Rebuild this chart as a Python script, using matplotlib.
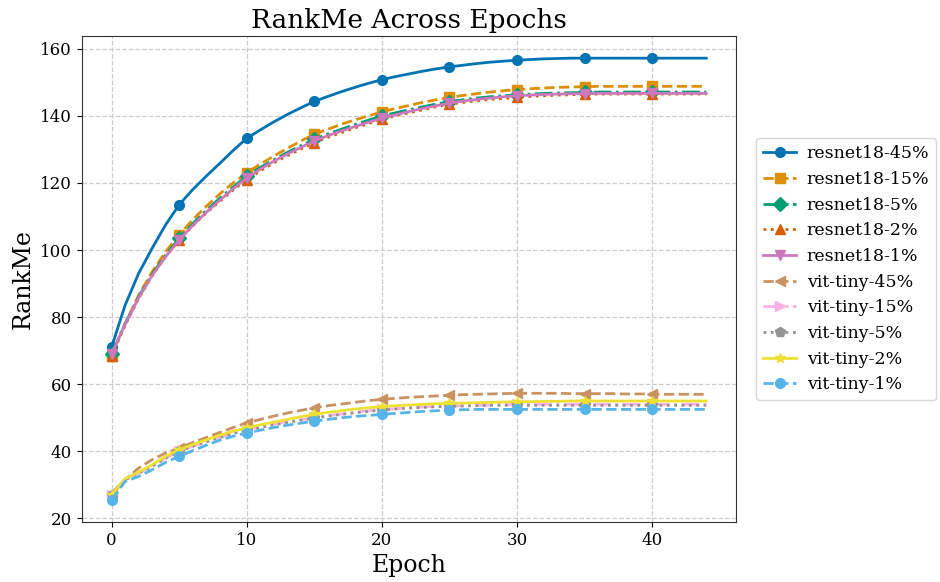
import matplotlib
matplotlib.use("Agg")
import matplotlib.pyplot as plt

plt.rcParams["font.family"] = "DejaVu Serif"

epochs = list(range(45))

resnet18_45 = [71.0, 83.5, 93.0, 100.5, 107.5, 113.5, 118.0, 122.0, 125.8, 129.7,
               133.3, 135.8, 138.2, 140.4, 142.4, 144.3, 145.8, 147.2, 148.5, 149.7,
               150.8, 151.7, 152.5, 153.3, 154.0, 154.6, 155.1, 155.6, 156.0, 156.3,
               156.6, 156.8, 157.0, 157.1, 157.2, 157.2, 157.2, 157.2, 157.2, 157.2,
               157.2, 157.2, 157.2, 157.2, 157.2]
resnet18_15 = [68.5, 78.0, 86.5, 93.5, 99.5, 104.5, 109.0, 113.0, 116.7, 120.0,
               123.0, 125.6, 128.0, 130.3, 132.5, 134.5, 136.0, 137.5, 138.8, 140.0,
               141.2, 142.2, 143.1, 144.0, 144.8, 145.5, 146.1, 146.6, 147.1, 147.5,
               147.8, 148.1, 148.3, 148.5, 148.6, 148.7, 148.8, 148.8, 148.8, 148.8,
               148.8, 148.8, 148.8, 148.8, 148.8]
resnet18_5 = [69.0, 78.0, 86.0, 92.8, 98.5, 103.5, 107.8, 111.8, 115.4, 118.8,
              122.0, 124.6, 126.9, 129.1, 131.1, 133.0, 134.6, 136.0, 137.4, 138.7,
              140.0, 140.9, 141.8, 142.7, 143.5, 144.2, 144.8, 145.3, 145.7, 146.0,
              146.3, 146.5, 146.7, 146.8, 146.9, 147.0, 147.1, 147.1, 147.1, 147.1,
              147.1, 147.1, 147.1, 147.1, 147.1]
resnet18_2 = [68.5, 77.5, 85.5, 92.3, 98.0, 103.0, 107.2, 111.0, 114.5, 117.9,
              121.0, 123.6, 126.0, 128.1, 130.1, 132.0, 133.6, 135.0, 136.4, 137.7,
              139.0, 140.0, 140.9, 141.8, 142.7, 143.5, 144.0, 144.5, 144.9, 145.2,
              145.5, 145.8, 146.0, 146.2, 146.3, 146.4, 146.5, 146.5, 146.5, 146.5,
              146.5, 146.5, 146.5, 146.5, 146.5]
resnet18_1 = [69.0, 77.8, 85.7, 92.4, 98.0, 103.0, 107.3, 111.2, 114.8, 118.3,
              121.5, 124.1, 126.5, 128.6, 130.6, 132.5, 134.1, 135.5, 136.8, 138.1,
              139.3, 140.3, 141.3, 142.2, 143.0, 143.8, 144.4, 144.9, 145.3, 145.7,
              146.0, 146.2, 146.4, 146.5, 146.6, 146.6, 146.7, 146.7, 146.7, 146.7,
              146.7, 146.7, 146.7, 146.7, 146.7]
vit_tiny_45 = [27.5, 31.5, 35.0, 37.5, 39.5, 41.0, 42.6, 44.1, 45.6, 47.1,
               48.5, 49.5, 50.5, 51.4, 52.2, 53.0, 53.6, 54.1, 54.6, 55.1,
               55.5, 55.8, 56.1, 56.3, 56.5, 56.7, 56.9, 57.0, 57.1, 57.2,
               57.3, 57.3, 57.3, 57.3, 57.2, 57.2, 57.2, 57.2, 57.1, 57.1,
               57.1, 57.0, 57.0, 57.0, 57.0]
vit_tiny_15 = [27.0, 31.5, 33.5, 35.5, 38.0, 40.0, 41.5, 42.8, 44.2, 45.4,
               46.5, 47.3, 48.1, 48.8, 49.4, 50.0, 50.6, 51.1, 51.6, 52.1,
               52.5, 52.7, 53.0, 53.2, 53.4, 53.5, 53.6, 53.7, 53.8, 53.9,
               54.0, 54.0, 54.0, 54.0, 54.0, 54.0, 54.0, 54.0, 54.0, 54.0,
               54.0, 54.0, 54.0, 54.0, 54.0]
vit_tiny_5 = [27.0, 31.5, 33.5, 35.5, 38.0, 40.0, 41.5, 42.8, 44.1, 45.3,
              46.3, 47.1, 47.9, 48.6, 49.3, 49.9, 50.5, 51.0, 51.5, 51.9,
              52.3, 52.6, 52.9, 53.1, 53.3, 53.4, 53.5, 53.6, 53.7, 53.7,
              53.7, 53.7, 53.7, 53.7, 53.7, 53.7, 53.7, 53.7, 53.7, 53.7,
              53.7, 53.7, 53.7, 53.7, 53.7]
vit_tiny_2 = [27.0, 31.8, 33.8, 36.0, 38.5, 40.5, 42.0, 43.4, 44.8, 46.0,
              47.0, 47.9, 48.7, 49.5, 50.3, 51.0, 51.6, 52.1, 52.6, 53.0,
              53.3, 53.6, 53.8, 54.0, 54.2, 54.3, 54.4, 54.5, 54.6, 54.7,
              54.8, 54.8, 54.9, 54.9, 55.0, 55.0, 55.0, 55.0, 55.0, 55.0,
              55.0, 55.0, 55.0, 55.0, 55.0]
vit_tiny_1 = [25.5, 31.0, 32.5, 34.5, 36.7, 38.5, 40.2, 41.8, 43.3, 44.5,
              45.5, 46.3, 47.1, 47.8, 48.4, 49.0, 49.5, 50.0, 50.4, 50.7,
              51.0, 51.3, 51.6, 51.9, 52.1, 52.3, 52.4, 52.5, 52.5, 52.5,
              52.5, 52.5, 52.5, 52.5, 52.5, 52.5, 52.5, 52.5, 52.5, 52.5,
              52.5, 52.5, 52.5, 52.5, 52.5]

labels = ["resnet18-45%", "resnet18-15%", "resnet18-5%", "resnet18-2%", "resnet18-1%",
          "vit-tiny-45%", "vit-tiny-15%", "vit-tiny-5%", "vit-tiny-2%", "vit-tiny-1%"]
series = [resnet18_45, resnet18_15, resnet18_5, resnet18_2, resnet18_1,
          vit_tiny_45, vit_tiny_15, vit_tiny_5, vit_tiny_2, vit_tiny_1]

# seaborn "colorblind" palette
colors = ["#0173b2", "#de8f05", "#029e73", "#d55e00", "#cc78bc",
          "#ca9161", "#fbafe4", "#949494", "#ece133", "#56b4e9"]
styles = ["-", "--", "-.", ":", "-", "--", "-.", ":", "-", "--"]
markers = ["o", "s", "D", "^", "v", "<", ">", "p", "*", "o"]

fig = plt.figure(figsize=(9.4, 5.82), dpi=100)
ax = fig.add_axes([0.087, 0.103, 0.696, 0.835])

for y, lab, c, ls, mk in zip(series, labels, colors, styles, markers):
    ax.plot(epochs, y, color=c, ls=ls, marker=mk, markevery=5, lw=2, ms=7, label=lab)

ax.grid(True, ls="--", color="#cccccc", lw=0.9)
for s in ax.spines.values():
    s.set_color("#333333")
ax.set_yticks([20, 40, 60, 80, 100, 120, 140, 160])
ax.set_xticks([0, 10, 20, 30, 40])
ax.tick_params(labelsize=12)
ax.set_title("RankMe Across Epochs", fontsize=19)
ax.set_xlabel("Epoch", fontsize=17)
ax.set_ylabel("RankMe", fontsize=17)
ax.legend(loc="center left", bbox_to_anchor=(1.023, 0.52), fontsize=12.5,
          handlelength=1.9, handletextpad=0.6, borderaxespad=0.3)

fig.savefig("out.png", dpi=100)
